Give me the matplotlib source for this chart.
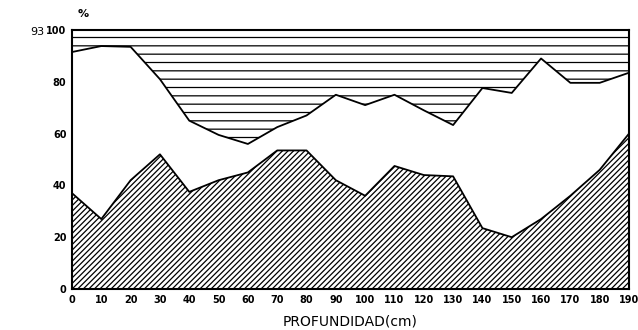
import numpy as np
import matplotlib.pyplot as plt

plt.rcParams['hatch.linewidth'] = 0.9

# profundidad (cm)
depth = [0, 10, 20, 30, 40, 50, 60, 70, 80, 90, 100, 110, 120, 130, 140, 150, 160, 170, 180, 190]
# limite superior de la zona inferior (rayado diagonal), %
lower = [37, 27, 42, 52, 37.5, 42, 45, 53.5, 53.5, 42, 36, 47.5, 44, 43.5, 23.5, 20, 27, 36, 46, 60]
# limite superior de la zona media (blanca), %
middle = [91.5, 93.8, 93.5, 81, 65, 59.5, 56, 62.5, 67, 75, 71, 75, 69, 63.3, 77.6, 75.7, 89, 79.6, 79.6, 83.5]
top = [100] * len(depth)

f = plt.figure(figsize=(6.38, 3.30), dpi=100)
ax = f.add_axes([72/638, 41/330, 557/638, 259/330])

ax.fill_between(depth, 0, lower, facecolor='white', edgecolor='black', hatch='//////', linewidth=0)
ax.fill_between(depth, middle, top, facecolor='white', edgecolor='black', hatch='--', linewidth=0)
ax.plot(depth, lower, color='black', lw=1.3)
ax.plot(depth, middle, color='black', lw=1.3)

ax.set_xlim(0, 190)
ax.set_ylim(0, 100)
ax.set_xticks(range(0, 191, 10))
ax.set_yticks(range(0, 101, 20))
ax.tick_params(length=0, labelsize=7, pad=4)
for lab in ax.get_xticklabels() + ax.get_yticklabels():
    lab.set_fontweight('bold')
for sp in ax.spines.values():
    sp.set_linewidth(1.5)

ax.set_xlabel('PROFUNDIDAD(cm)', fontsize=10, labelpad=7)
f.text(78/638, 1 - 14/330, '%', fontsize=8, fontweight='bold', ha='left', va='center')
f.text(30/638, 1 - 32/330, '93', fontsize=8, ha='left', va='center')

f.savefig('out.png', dpi=100)
